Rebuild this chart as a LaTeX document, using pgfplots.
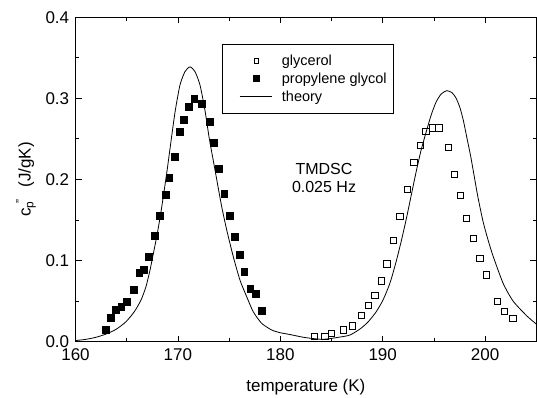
\documentclass[border=0pt]{standalone}
\usepackage{fontspec}
\setmainfont{Liberation Sans}
\usepackage{pgfplots}
\pgfplotsset{compat=1.18}
\begin{document}
\begin{tikzpicture}
\useasboundingbox (-75.5pt,-55.5pt) rectangle (461.5pt,341.5pt);
\begin{axis}[
  scale only axis, width=460.8pt, height=324.2pt,
  xmin=160, xmax=205, ymin=0, ymax=0.4,
  xtick={160,170,180,190,200}, minor xtick={165,175,185,195},
  ytick={0,0.1,0.2,0.3,0.4}, minor ytick={0.05,0.15,0.25,0.35},
  major tick length=6pt, minor tick length=3.5pt,
  tick style={black, line width=0.8pt},
  axis line style={line width=0.8pt},
  /pgf/number format/assume math mode=true,
  tick label style={font=\fontsize{17}{20}\selectfont},
  scaled y ticks=false,
  yticklabel style={xshift=-2.8pt, /pgf/number format/.cd, fixed, fixed zerofill, precision=1},
  xticklabel style={yshift=-4pt},
  xlabel={temperature (K)},
  ylabel={c\textsubscript{p}\kern-0.15em\textsuperscript{"}\hspace{0.7em}(J/gK)},
  label style={font=\fontsize{17}{20}\selectfont},
  xlabel style={at={(axis description cs:0.5,-0.1527)}, anchor=base},
  ylabel style={at={(axis description cs:-0.1074,0.5)}, anchor=center},
  legend style={at={(axis description cs:0.3186,0.9186)}, anchor=north west,
    draw=black, line width=0.8pt, font=\fontsize{14.5}{16}\selectfont,
    inner xsep=5pt, inner ysep=9pt, row sep=1.7pt},
  legend cell align=left,
  legend image code/.code={\path (0pt,0pt) (51.4pt,0pt);
    \draw[mark repeat=2,mark phase=2,#1] plot coordinates {(11.4pt,0pt) (28.4pt,0pt) (44pt,0pt)};},
]
\addplot[only marks, mark=square, mark size=3.1pt, mark options={line width=0.9pt, black},
  legend image post style={mark size=2.4pt}] coordinates {
(183.32,0.0059) (184.36,0.0059) (185.02,0.0101) (186.15,0.0142) (187.07,0.0191) (187.91,0.0318) (188.59,0.0441) (189.25,0.0573) (189.86,0.0746) (190.42,0.0956) (191.03,0.1248) (191.69,0.1544) (192.40,0.1880) (193.06,0.2213) (193.67,0.2423) (194.23,0.2587) (194.84,0.2636) (195.50,0.2636) (196.41,0.2390) (196.99,0.2057) (197.62,0.1806) (198.20,0.1523) (198.85,0.1273) (199.50,0.1026) (200.15,0.0820) (201.19,0.0491) (201.91,0.0367) (202.72,0.0286)
};
\addlegendentry{glycerol}
\addplot[only marks, mark=square*, mark size=3.4pt, mark options={black, fill=black},
  legend image post style={mark size=3pt}] coordinates {
(162.95,0.0142) (163.47,0.0293) (163.96,0.0397) (164.47,0.0429) (165.00,0.0491) (165.71,0.0635) (166.23,0.0848) (166.66,0.0890) (167.18,0.1046) (167.73,0.1301) (168.25,0.1556) (168.77,0.1815) (169.16,0.2025) (169.65,0.2279) (170.20,0.2587) (170.60,0.2740) (171.05,0.2895) (171.60,0.2999) (172.29,0.2937) (173.07,0.2710) (173.53,0.2454) (173.98,0.2136) (174.53,0.1822) (175.02,0.1556) (175.51,0.1289) (176.06,0.1075) (176.48,0.0861) (177.07,0.0647) (177.60,0.0594) (178.21,0.0380)
};
\addlegendentry{propylene glycol}
\addplot[black, line width=0.8pt, smooth, tension=0.4] coordinates {
(160.05,0.0012) (161.03,0.0027) (162.00,0.0052) (162.98,0.0092) (163.96,0.0150) (164.93,0.0244) (165.74,0.0367) (166.40,0.0512) (166.88,0.0676) (167.28,0.0882) (167.54,0.1046) (167.93,0.1292) (168.35,0.1600) (168.91,0.2080) (169.23,0.2380) (169.72,0.2830) (170.20,0.3163) (170.69,0.3330) (171.18,0.3388) (171.67,0.3330) (172.16,0.3163) (172.64,0.2854) (173.07,0.2500) (173.46,0.2230) (173.79,0.2000) (174.28,0.1662) (174.77,0.1375) (175.41,0.1046) (176.06,0.0758) (176.72,0.0552) (177.36,0.0367) (178.18,0.0224) (179.16,0.0142) (179.97,0.0109) (180.95,0.0086) (182.41,0.0049) (184.17,0.0027) (185.83,0.0055) (186.80,0.0080) (187.78,0.0154) (188.56,0.0240) (189.35,0.0364) (190.03,0.0512) (190.71,0.0721) (191.30,0.0980) (191.79,0.1227) (192.28,0.1498) (192.77,0.1794) (193.26,0.2090) (193.75,0.2361) (194.24,0.2583) (194.73,0.2793) (195.21,0.2953) (195.70,0.3052) (196.25,0.3095) (196.77,0.3070) (197.17,0.3002) (197.56,0.2879) (197.89,0.2719) (198.23,0.2509) (198.60,0.2280) (198.95,0.2030) (199.31,0.1775) (199.80,0.1480) (200.29,0.1252) (200.78,0.1054) (201.75,0.0721) (202.73,0.0499) (204.09,0.0314) (205.00,0.0216)
};
\addlegendentry{theory}
\node[align=center, font=\fontsize{16}{18.5}\selectfont] at (axis cs:184.27,0.2016) {TMDSC\\0.025 Hz};
\end{axis}
\end{tikzpicture}
\end{document}
